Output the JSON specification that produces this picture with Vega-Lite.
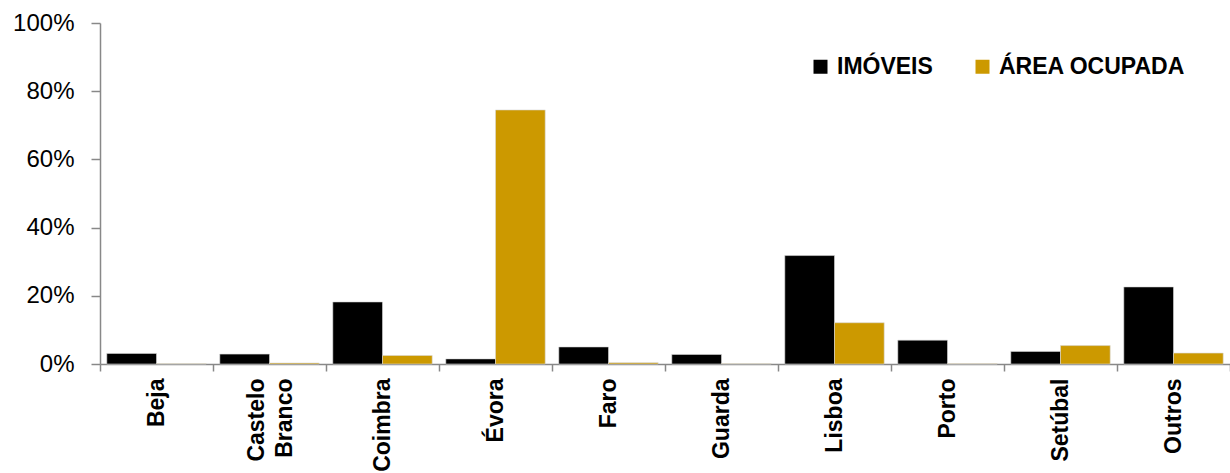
{
  "$schema": "https://vega.github.io/schema/vega-lite/v6.json",
  "width": 1130,
  "height": 341,
  "autosize": {"type": "none"},
  "padding": {"left": 100, "top": 23, "right": 0, "bottom": 109},
  "background": "white",
  "config": {"view": {"stroke": null}, "font": "Liberation Sans"},
  "data": {
    "values": [
      {"regiao": "Beja", "serie": "IMÓVEIS", "valor": 0.031},
      {"regiao": "Beja", "serie": "ÁREA OCUPADA", "valor": 0.001},
      {"regiao": "Castelo Branco", "serie": "IMÓVEIS", "valor": 0.029},
      {"regiao": "Castelo Branco", "serie": "ÁREA OCUPADA", "valor": 0.003},
      {"regiao": "Coimbra", "serie": "IMÓVEIS", "valor": 0.182},
      {"regiao": "Coimbra", "serie": "ÁREA OCUPADA", "valor": 0.025},
      {"regiao": "Évora", "serie": "IMÓVEIS", "valor": 0.015},
      {"regiao": "Évora", "serie": "ÁREA OCUPADA", "valor": 0.745},
      {"regiao": "Faro", "serie": "IMÓVEIS", "valor": 0.05},
      {"regiao": "Faro", "serie": "ÁREA OCUPADA", "valor": 0.004},
      {"regiao": "Guarda", "serie": "IMÓVEIS", "valor": 0.028},
      {"regiao": "Guarda", "serie": "ÁREA OCUPADA", "valor": 0.001},
      {"regiao": "Lisboa", "serie": "IMÓVEIS", "valor": 0.318},
      {"regiao": "Lisboa", "serie": "ÁREA OCUPADA", "valor": 0.121},
      {"regiao": "Porto", "serie": "IMÓVEIS", "valor": 0.07},
      {"regiao": "Porto", "serie": "ÁREA OCUPADA", "valor": 0.0005},
      {"regiao": "Setúbal", "serie": "IMÓVEIS", "valor": 0.037},
      {"regiao": "Setúbal", "serie": "ÁREA OCUPADA", "valor": 0.054},
      {"regiao": "Outros", "serie": "IMÓVEIS", "valor": 0.226},
      {"regiao": "Outros", "serie": "ÁREA OCUPADA", "valor": 0.032}
    ]
  },
  "mark": {"type": "bar", "stroke": "#d8d8d8", "strokeWidth": 0.6},
  "encoding": {
    "x": {
      "field": "regiao",
      "type": "nominal",
      "sort": null,
      "scale": {"paddingInner": 0, "paddingOuter": 0},
      "axis": {
        "title": null,
        "tickBand": "extent",
        "labelAngle": -90,
        "labelAlign": "right",
        "labelBaseline": "middle",
        "labelFont": "Liberation Sans",
        "labelFontWeight": "bold",
        "labelFontSize": 23,
        "labelColor": "black",
        "labelPadding": 7,
        "labelLimit": 0,
        "labelLineHeight": 28,
        "labelOffset": {"condition": {"test": "datum.value == 'Castelo Branco'", "value": -13}, "value": 0},
        "labelExpr": "datum.value == 'Castelo Branco' ? ['Castelo', 'Branco'] : datum.value",
        "domainColor": "#888888",
        "domainWidth": 1.5,
        "tickColor": "#888888",
        "tickWidth": 1.5,
        "tickSize": 7
      }
    },
    "xOffset": {
      "field": "serie",
      "type": "nominal",
      "sort": ["IMÓVEIS", "ÁREA OCUPADA"],
      "scale": {"paddingOuter": 0.137, "paddingInner": 0}
    },
    "y": {
      "field": "valor",
      "type": "quantitative",
      "scale": {"domain": [0, 1], "nice": false},
      "axis": {
        "title": null,
        "values": [0, 0.2, 0.4, 0.6, 0.8, 1],
        "format": ".0%",
        "grid": false,
        "labelFont": "Liberation Sans",
        "labelFontSize": 24,
        "labelColor": "black",
        "labelPadding": 17,
        "domainColor": "#888888",
        "domainWidth": 1.5,
        "tickColor": "#888888",
        "tickWidth": 1.5,
        "tickSize": 9
      }
    },
    "color": {
      "field": "serie",
      "type": "nominal",
      "scale": {"domain": ["IMÓVEIS", "ÁREA OCUPADA"], "range": ["#000000", "#CC9900"]},
      "legend": {
        "title": null,
        "orient": "none",
        "legendX": 709,
        "legendY": 32,
        "direction": "horizontal",
        "symbolType": "square",
        "symbolSize": 196,
        "symbolStrokeWidth": 0,
        "labelFont": "Liberation Sans",
        "labelFontWeight": "bold",
        "labelFontSize": 23,
        "labelColor": "black",
        "labelLimit": 0,
        "labelOffset": 5,
        "columnPadding": 38
      }
    }
  }
}
